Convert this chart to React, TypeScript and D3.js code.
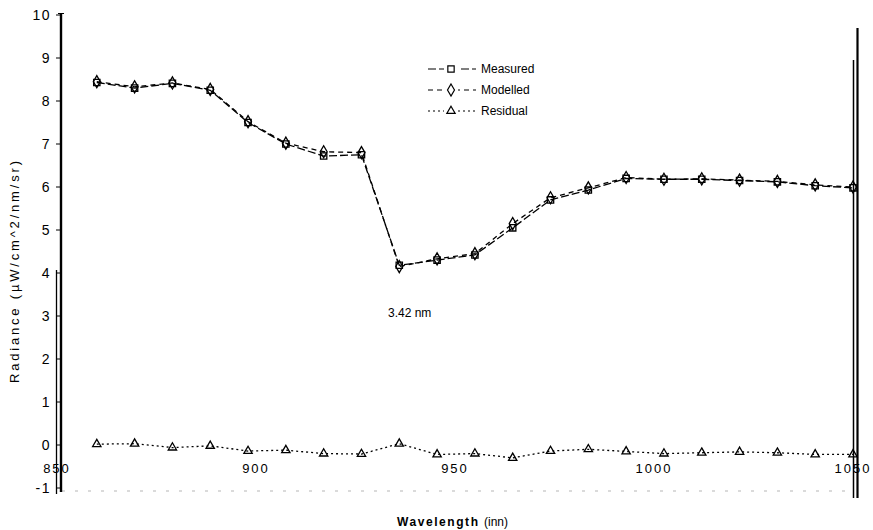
import React from "react";
import * as d3 from "d3";

const wavelengths = [860, 869.5, 879, 888.5, 898, 907.5, 917, 926.5, 936, 945.5, 955, 964.5, 974, 983.5, 993, 1002.5, 1012, 1021.5, 1031, 1040.5, 1050];
const measured = [8.43, 8.30, 8.41, 8.25, 7.50, 7.00, 6.72, 6.75, 4.18, 4.30, 4.42, 5.05, 5.70, 5.93, 6.20, 6.18, 6.18, 6.15, 6.12, 6.03, 5.98];
const modelled = [8.45, 8.33, 8.42, 8.27, 7.52, 7.02, 6.82, 6.80, 4.15, 4.33, 4.45, 5.15, 5.75, 5.98, 6.22, 6.18, 6.19, 6.16, 6.13, 6.05, 6.00];
const residual = [0.02, 0.03, -0.06, -0.02, -0.14, -0.12, -0.2, -0.21, 0.03, -0.22, -0.2, -0.3, -0.14, -0.1, -0.15, -0.2, -0.18, -0.16, -0.18, -0.22, -0.22];
const yTicks = [-1, 0, 1, 2, 3, 4, 5, 6, 7, 8, 9, 10];
const xTicks = [850, 900, 950, 1000, 1050];
const seriesNames = ["Measured", "Modelled", "Residual"];
const annotation = "3.42 nm";

const FONT = "'Liberation Sans', Arial, Helvetica, sans-serif";

export default function App() {
  const x = d3.scaleLinear().domain([850, 1050]).range([57, 853]);
  const y = d3.scaleLinear().domain([-1, 10]).range([488, 15]);

  const mk = (vals: number[]) =>
    d3.line<number>().x((_, i) => x(wavelengths[i])).y((v) => y(v))(vals) || "";

  const sq = d3.symbol().type(d3.symbolSquare).size(40)() || "";
  const dia = d3.symbol().type(d3.symbolDiamond).size(42)() || "";
  const tri = d3.symbol().type(d3.symbolTriangle).size(30)() || "";

  const series = [
    { name: seriesNames[0], vals: measured, dash: "8,3", sym: sq },
    { name: seriesNames[1], vals: modelled, dash: "5,4", sym: dia },
    { name: seriesNames[2], vals: residual, dash: "2,3", sym: tri },
  ];

  return (
    <svg
      width={873}
      height={530}
      style={{ position: "fixed", left: 0, top: 0, background: "#fff" }}
      fontFamily={FONT}
    >
      <rect x={0} y={0} width={873} height={530} fill="#fff" />
      <line x1={62} x2={853} y1={491} y2={491} stroke="#b5b5b5" strokeDasharray="3,10" strokeWidth={1} />
      <line x1={61} x2={61} y1={13} y2={492} stroke="#000" strokeWidth={2.4} />
      <line x1={56.5} x2={56.5} y1={270} y2={494} stroke="#000" strokeWidth={1.3} />
      <line x1={58} x2={64} y1={13.5} y2={13.5} stroke="#000" strokeWidth={1} />
      {yTicks.map((t) => (
        <g key={t}>
          <line x1={56} x2={60} y1={y(t)} y2={y(t)} stroke="#000" strokeWidth={1} />
          <text x={51} y={y(t)} dy="0.35em" textAnchor="end" fontSize={14} letterSpacing={1.5}>
            {t}
          </text>
        </g>
      ))}
      <line x1={853.5} x2={853.5} y1={60} y2={498} stroke="#000" strokeWidth={1.5} />
      <line x1={857.5} x2={857.5} y1={28} y2={498} stroke="#000" strokeWidth={2.2} />
      {xTicks.map((t) => (
        <text key={t} x={x(t)} y={468} dy="0.35em" textAnchor="middle" fontSize={13} letterSpacing={2}>
          {t}
        </text>
      ))}
      {series.map((s) => (
        <g key={s.name}>
          <path d={mk(s.vals)} fill="none" stroke="#000" strokeWidth={1.3} strokeDasharray={s.dash} />
          {s.vals.map((v, i) => (
            <path
              key={i}
              d={s.sym}
              transform={`translate(${x(wavelengths[i])},${y(v)})`}
              fill="none"
              stroke="#000"
              strokeWidth={1.3}
            />
          ))}
        </g>
      ))}
      {series.map((s, i) => {
        const ly = 69 + i * 21;
        return (
          <g key={s.name}>
            <line x1={428} x2={476} y1={ly} y2={ly} stroke="#000" strokeWidth={1.1} strokeDasharray={s.dash} />
            <rect x={444} y={ly - 5} width={14} height={10} fill="#fff" />
            <path d={s.sym} transform={`translate(451,${ly})`} fill="none" stroke="#000" strokeWidth={1.2} />
            <text x={481} y={ly} dy="0.35em" fontSize={12}>
              {s.name}
            </text>
          </g>
        );
      })}
      <text x={388} y={313} dy="0.35em" fontSize={12}>
        {annotation}
      </text>
      <text transform="translate(19,272) rotate(-90)" textAnchor="middle" fontSize={13} textLength={222} lengthAdjust="spacing">
        Radiance  (µW/cm^2/nm/sr)
      </text>
      <text x={397} y={522} dy="0.35em" fontSize={12} fontWeight="bold" textLength={81} lengthAdjust="spacing">
        Wavelength
      </text>
      <text x={484} y={522} dy="0.35em" fontSize={12}>
        (inn)
      </text>
    </svg>
  );
}
